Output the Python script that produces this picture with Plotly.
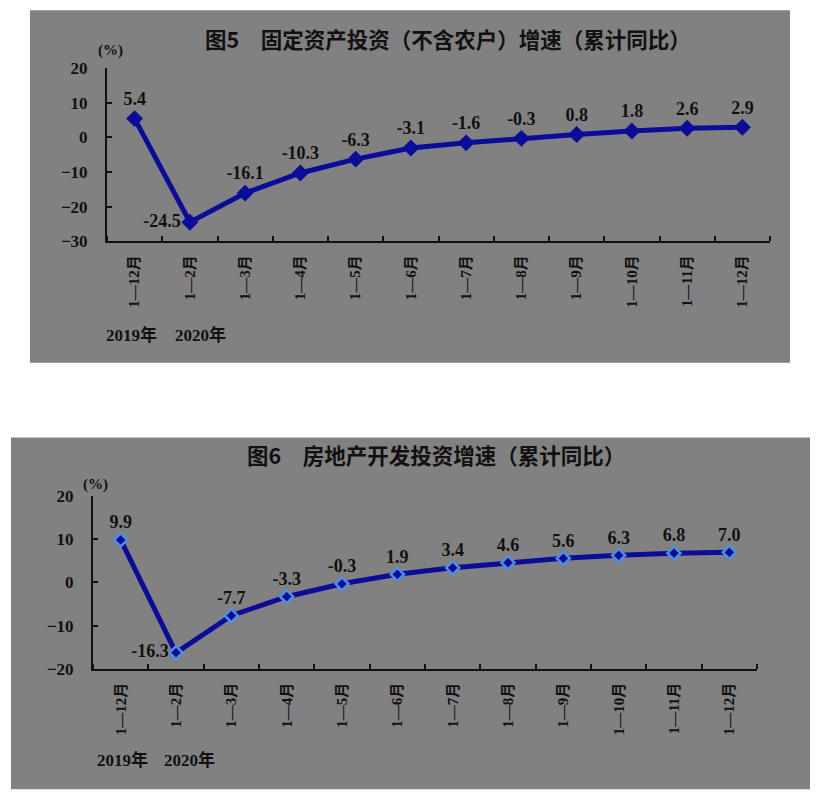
import plotly.graph_objects as go

# ---- data ----
months = ["1—12月", "1—2月", "1—3月", "1—4月", "1—5月", "1—6月",
          "1—7月", "1—8月", "1—9月", "1—10月", "1—11月", "1—12月"]
fixed_asset = [5.4, -24.5, -16.1, -10.3, -6.3, -3.1, -1.6, -0.3, 0.8, 1.8, 2.6, 2.9]
real_estate = [9.9, -16.3, -7.7, -3.3, -0.3, 1.9, 3.4, 4.6, 5.6, 6.3, 6.8, 7.0]
title1 = "图5　固定资产投资（不含农户）增速（累计同比）"
title2 = "图6　房地产开发投资增速（累计同比）"
yticks1 = [-30, -20, -10, 0, 10, 20]
yticks2 = [-20, -10, 0, 10, 20]
year_labels = ["2019年", "2020年"]

W, H = 825, 800
def px(x): return x / W
def py(y):
    # compensate for the vertical rendering offset/scale observed
    return 1 - ((y - 7.8) / 0.98) / H

LINE = "#0c0c9a"
GRAY = "#818181"
SERIF = "Liberation Serif, Noto Sans CJK SC"
CJK = "Noto Sans CJK SC"

xs = list(range(len(months)))

fig = go.Figure()

pos1 = ["middle left" if i == 1 else "top center" for i in xs]
fig.add_trace(go.Scatter(
    x=xs, y=fixed_asset, mode="lines+markers+text",
    text=[f"{v:.1f}" for v in fixed_asset], textposition=pos1,
    textfont=dict(family=SERIF, size=18, color="#111111", weight="bold"),
    line=dict(color=LINE, width=5),
    marker=dict(symbol="diamond", size=13, color=LINE),
    xaxis="x", yaxis="y", showlegend=False, cliponaxis=False))

pos2 = ["middle left" if i == 1 else "top center" for i in xs]
fig.add_trace(go.Scatter(
    x=xs, y=real_estate, mode="lines+markers+text",
    text=[f"{v:.1f}" for v in real_estate], textposition=pos2,
    textfont=dict(family=SERIF, size=18, color="#111111", weight="bold"),
    line=dict(color=LINE, width=5),
    marker=dict(symbol="diamond", size=10, color=LINE,
                line=dict(color="#4f8fe0", width=2.5)),
    xaxis="x2", yaxis="y2", showlegend=False, cliponaxis=False))

def xaxis_cfg(d0, d1, anchor):
    return dict(domain=[d0, d1], anchor=anchor, range=[-0.5, len(months) - 0.5],
                tickmode="array", tickvals=xs, ticktext=months, ticks="",
                tickangle=-90, ticklabelstandoff=6,
                tickfont=dict(family=SERIF, size=15, color="#111111", weight="bold"),
                showline=True, linecolor="#111111", linewidth=2,
                showgrid=False, zeroline=False, fixedrange=True,
                minor=dict(ticks="inside", ticklen=5, tickwidth=2, tickcolor="#111111",
                           tickmode="array",
                           tickvals=[i - 0.5 for i in range(len(months) + 1)]))

def yaxis_cfg(d0, d1, anchor, ticks):
    return dict(domain=[d0, d1], anchor=anchor, range=[ticks[0], ticks[-1]],
                tickmode="array", tickvals=ticks, ticks="inside", ticklen=5,
                tickwidth=2, tickcolor="#111111", ticklabelstandoff=14,
                tickfont=dict(family=SERIF, size=17, color="#111111", weight="bold"),
                showline=True, linecolor="#111111", linewidth=2,
                showgrid=False, zeroline=False, fixedrange=True)

fig.update_layout(
    width=W, height=H, margin=dict(l=0, r=0, t=0, b=0),
    paper_bgcolor="white", plot_bgcolor="rgba(0,0,0,0)",
    xaxis=xaxis_cfg(px(107), px(770), "y"),
    yaxis=yaxis_cfg(py(241), py(67), "x", yticks1),
    xaxis2=xaxis_cfg(px(93), px(757), "y2"),
    yaxis2=yaxis_cfg(py(670), py(497), "x2", yticks2),
    shapes=[
        dict(type="rect", xref="paper", yref="paper", layer="below",
             x0=px(30), x1=px(790), y0=py(363), y1=py(9),
             fillcolor=GRAY, line=dict(width=0)),
        dict(type="rect", xref="paper", yref="paper", layer="below",
             x0=px(11), x1=px(810), y0=py(791), y1=py(438),
             fillcolor=GRAY, line=dict(width=0)),
    ],
)

def ann(x, y, text, size, family=CJK):
    fig.add_annotation(x=px(x), y=py(y), xref="paper", yref="paper", text=text,
                       showarrow=False, xanchor="center", yanchor="middle",
                       font=dict(family=family, size=size, color="#111111", weight="bold"))

ann(448, 37, title1, 21.5)
ann(436, 455, title2, 21.5)
ann(110, 49, "(%)", 15, SERIF)
ann(95, 485, "(%)", 15, SERIF)
ann(131, 335, year_labels[0], 17, SERIF)
ann(200, 335, year_labels[1], 17, SERIF)
ann(123, 762, year_labels[0], 17, SERIF)
ann(189, 762, year_labels[1], 17, SERIF)

fig.write_html("out.html")
